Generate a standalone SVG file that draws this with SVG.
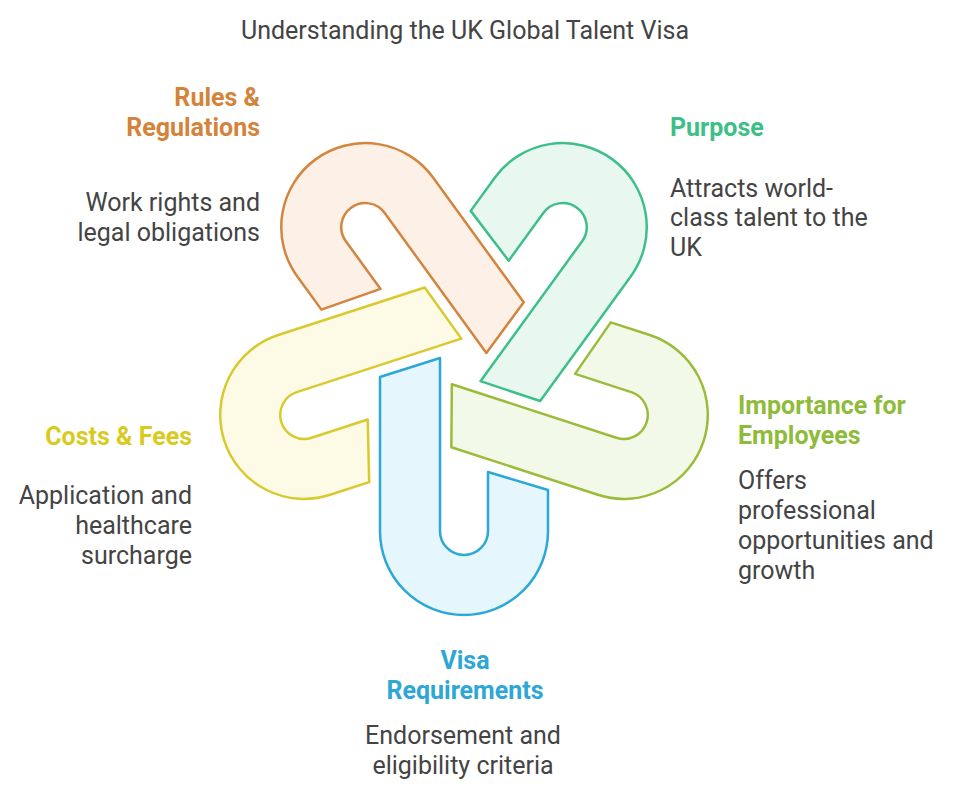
<svg xmlns="http://www.w3.org/2000/svg" width="960" height="795" viewBox="0 0 960 795">
  <style>
    .title { font-family: Roboto, "Liberation Sans", sans-serif; font-size: 25px; fill: #444444; }
    .lbl { font-family: Roboto, "Liberation Sans", sans-serif; font-size: 25px; font-weight: 700; }
    .body { font-family: Roboto, "Liberation Sans", sans-serif; font-size: 25px; fill: #444444; }
    .hook { stroke-width: 2.5; stroke-linejoin: round; }
    .r { text-anchor: end; }
    .c { text-anchor: middle; }
  </style>
  <defs>
    <path id="hookShape" d="M380 377 L440 358 L440 531 A24 24 0 0 0 488 531 L488 472 L548 490 L548 531 A84 84 0 0 1 380 531 Z"/>
  </defs>
  <text class="title c" x="465" y="39">Understanding the UK Global Talent Visa</text>

  <g id="connectors"></g>

  <g id="node-rules">
    <use href="#hookShape" class="hook" fill="#fdf0e6" stroke="#d4853d" transform="rotate(144 464 363)"/>
    <text class="lbl r" x="260" y="106" fill="#d4843a">Rules &amp;</text>
    <text class="lbl r" x="260" y="136" fill="#d4843a">Regulations</text>
    <text class="body r" x="260" y="211">Work rights and</text>
    <text class="body r" x="260" y="241">legal obligations</text>
  </g>

  <g id="node-purpose">
    <use href="#hookShape" class="hook" fill="#e8f8f0" stroke="#3dbf8a" transform="rotate(-144 464 363)"/>
    <text class="lbl" x="670" y="136" fill="#3dbf87">Purpose</text>
    <text class="body" x="670" y="197">Attracts world-</text>
    <text class="body" x="670" y="226">class talent to the</text>
    <text class="body" x="670" y="256">UK</text>
  </g>

  <g id="node-importance">
    <use href="#hookShape" class="hook" fill="#f3f9e8" stroke="#9bbb3a" transform="rotate(-72 464 363)"/>
    <text class="lbl" x="738" y="414" fill="#8fbb3a">Importance for</text>
    <text class="lbl" x="738" y="444" fill="#8fbb3a">Employees</text>
    <text class="body" x="738" y="489">Offers</text>
    <text class="body" x="738" y="519">professional</text>
    <text class="body" x="738" y="549">opportunities and</text>
    <text class="body" x="738" y="579">growth</text>
  </g>

  <g id="node-costs">
    <use href="#hookShape" class="hook" fill="#fdfbe6" stroke="#d8ca2c" transform="rotate(72 464 363)"/>
    <text class="lbl r" x="192" y="445" fill="#d9cb1e">Costs &amp; Fees</text>
    <text class="body r" x="192" y="504">Application and</text>
    <text class="body r" x="192" y="534">healthcare</text>
    <text class="body r" x="192" y="564">surcharge</text>
  </g>

  <g id="node-visa">
    <use href="#hookShape" class="hook" fill="#e5f6fc" stroke="#2ba8d8"/>
    <text class="lbl c" x="465" y="669" fill="#2ea6d6">Visa</text>
    <text class="lbl c" x="465" y="699" fill="#2ea6d6">Requirements</text>
    <text class="body c" x="463" y="744">Endorsement and</text>
    <text class="body c" x="463" y="774">eligibility criteria</text>
  </g>
</svg>
